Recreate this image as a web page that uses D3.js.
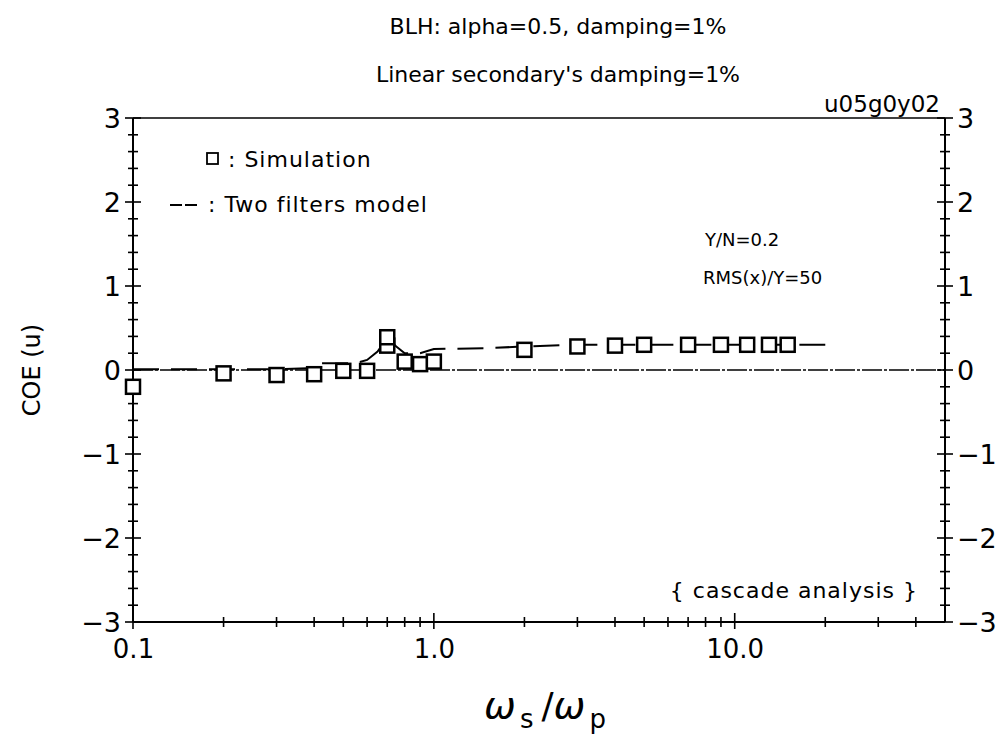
<!DOCTYPE html>
<html lang="en">
<head>
<meta charset="utf-8">
<title>COE vs frequency ratio</title>
<script src="https://d3js.org/d3.v7.min.js"></script>
<style>
  body { margin: 0; background: #fff; }
  svg text { font-family: "DejaVu Sans", "Liberation Sans", sans-serif; fill: #000; }
  .axis .domain { display: none; }
</style>
</head>
<body>
<div id="chart"></div>
<script>
// simulation points (squares)
var simX = [0.1, 0.2, 0.3, 0.4, 0.5, 0.6, 0.7, 0.7, 0.8, 0.9, 1.0, 2, 3, 4, 5, 7, 9, 11, 13, 15];
var simY = [-0.2, -0.04, -0.06, -0.05, -0.01, -0.01, 0.29, 0.39, 0.1, 0.07, 0.1, 0.24, 0.28, 0.29, 0.3, 0.3, 0.3, 0.3, 0.3, 0.3];

// two filters model (dashed)
var modelX = [0.1, 0.2, 0.3, 0.38, 0.42, 0.55, 0.6, 0.65, 0.7, 0.75, 0.8, 0.9, 1.0, 1.5, 2, 3, 5, 10, 20];
var modelY = [0.01, 0.01, 0.01, 0.02, 0.08, 0.08, 0.12, 0.22, 0.38, 0.28, 0.2, 0.2, 0.25, 0.26, 0.28, 0.3, 0.3, 0.3, 0.3];

var xMajor = [0.1, 1, 10];
var xMinor = [0.2, 0.3, 0.4, 0.5, 0.6, 0.7, 0.8, 0.9, 2, 3, 4, 5, 6, 7, 8, 9, 20, 30, 40];
var xLabels = ["0.1", "1.0", "10.0"];
var yMajor = [-3, -2, -1, 0, 1, 2, 3];

var W = 1005, H = 735;
var svg = d3.select("#chart").append("svg").attr("width", W).attr("height", H);

var x = d3.scaleLog().domain([0.1, 50]).range([133, 945]);
var y = d3.scaleLinear().domain([-3, 3]).range([622, 118]);

var fmt = function(d) { return d < 0 ? "\u2212" + Math.abs(d) : String(d); };

// titles
svg.append("text").attr("x", 558).attr("y", 34).attr("text-anchor", "middle")
  .style("font-size", "22px").text("BLH: alpha=0.5, damping=1%");
svg.append("text").attr("x", 558).attr("y", 82).attr("text-anchor", "middle")
  .style("font-size", "22px").text("Linear secondary's damping=1%");
svg.append("text").attr("x", 940).attr("y", 112).attr("text-anchor", "end")
  .style("font-size", "23px").text("u05g0y02");

// frame
svg.append("line").attr("x1", x(0.1)).attr("x2", x(50)).attr("y1", y(3)).attr("y2", y(3))
  .attr("stroke", "#000").attr("stroke-width", 1.3);
svg.append("line").attr("x1", x(0.1)).attr("x2", x(50)).attr("y1", y(-3)).attr("y2", y(-3))
  .attr("stroke", "#000").attr("stroke-width", 2);
svg.append("line").attr("x1", x(0.1)).attr("x2", x(0.1)).attr("y1", y(3)).attr("y2", y(-3))
  .attr("stroke", "#000").attr("stroke-width", 2);
svg.append("line").attr("x1", x(50)).attr("x2", x(50)).attr("y1", y(3)).attr("y2", y(-3))
  .attr("stroke", "#000").attr("stroke-width", 2);

// zero line
svg.append("line").attr("x1", x(0.1)).attr("x2", x(50)).attr("y1", y(0)).attr("y2", y(0))
  .attr("stroke", "#000").attr("stroke-width", 1.5).attr("stroke-dasharray", "20,2,3,2");

// y ticks, crossing both side axes
var yTicks = y.ticks(24);
[x(0.1), x(50)].forEach(function(ax) {
  svg.append("g").selectAll("line").data(yTicks).join("line")
    .attr("x1", function(d) { return ax - (yMajor.indexOf(d) >= 0 ? 8 : 5); })
    .attr("x2", function(d) { return ax + (yMajor.indexOf(d) >= 0 ? 8 : 5); })
    .attr("y1", function(d) { return y(d); }).attr("y2", function(d) { return y(d); })
    .attr("stroke", "#000").attr("stroke-width", 1.6);
});

// x ticks
svg.append("g").selectAll("line").data(xMinor.concat(xMajor)).join("line")
  .attr("x1", function(d) { return x(d); }).attr("x2", function(d) { return x(d); })
  .attr("y1", function(d) { return y(-3) - (xMajor.indexOf(d) >= 0 ? 9 : 5); })
  .attr("y2", function(d) { return y(-3) + (xMajor.indexOf(d) >= 0 ? 7 : 5); })
  .attr("stroke", "#000").attr("stroke-width", 1.6);

// axis labels through d3 axes
svg.append("g").attr("class", "axis").attr("transform", "translate(" + x(0.1) + ",0)")
  .call(d3.axisLeft(y).tickValues(yMajor).tickSize(0).tickPadding(12).tickFormat(fmt))
  .selectAll("text").style("font-size", "27px").attr("dy", "0.36em");
svg.append("g").attr("class", "axis").attr("transform", "translate(" + x(50) + ",0)")
  .call(d3.axisRight(y).tickValues(yMajor).tickSize(0).tickPadding(12).tickFormat(fmt))
  .selectAll("text").style("font-size", "27px").attr("dy", "0.36em");
svg.append("g").attr("class", "axis").attr("transform", "translate(0," + y(-3) + ")")
  .call(d3.axisBottom(x).tickValues(xMajor).tickSize(0).tickPadding(18)
    .tickFormat(function(d, i) { return xLabels[i]; }))
  .selectAll("text").style("font-size", "26px");

// y label
svg.append("text").attr("transform", "translate(40," + y(0) + ") rotate(-90)")
  .attr("text-anchor", "middle").style("font-size", "24px").style("fill", "#000").text("COE (u)");

// x label
var xl = svg.append("text").attr("x", 545).attr("y", 718).attr("text-anchor", "middle");
xl.append("tspan").style("font-size", "38px").style("font-style", "italic").text("\u03c9");
xl.append("tspan").style("font-size", "26px").attr("dy", 10).attr("dx", 4).text("s");
xl.append("tspan").style("font-size", "36px").attr("dy", -10).attr("dx", 8).text("/");
xl.append("tspan").style("font-size", "38px").style("font-style", "italic").text("\u03c9");
xl.append("tspan").style("font-size", "26px").attr("dy", 10).attr("dx", 4).text("p");

// model line
var model = modelX.map(function(d, i) { return [d, modelY[i]]; });
svg.append("path").datum(model)
  .attr("d", d3.line().x(function(d) { return x(d[0]); }).y(function(d) { return y(d[1]); }))
  .attr("fill", "none").attr("stroke", "#000").attr("stroke-width", 2)
  .attr("stroke-dasharray", "26,12");

// simulation squares
var s = 14;
svg.append("g").selectAll("rect").data(simX).join("rect")
  .attr("x", function(d) { return x(d) - s / 2; })
  .attr("y", function(d, i) { return y(simY[i]) - s / 2; })
  .attr("width", s).attr("height", s)
  .attr("fill", "#fff").attr("stroke", "#000").attr("stroke-width", 2.5);

// legend
svg.append("rect").attr("x", 207).attr("y", 153).attr("width", 11).attr("height", 11)
  .attr("fill", "none").attr("stroke", "#000").attr("stroke-width", 1.8);
svg.append("text").attr("x", 228).attr("y", 167).style("font-size", "22px")
  .style("letter-spacing", "1px").text(": Simulation");
svg.append("line").attr("x1", 170).attr("x2", 198).attr("y1", 205).attr("y2", 205)
  .attr("stroke", "#000").attr("stroke-width", 1.8).attr("stroke-dasharray", "12,3");
svg.append("text").attr("x", 208).attr("y", 212).style("font-size", "22px")
  .style("letter-spacing", "1px").text(": Two filters model");

// annotations
svg.append("text").attr("x", 705).attr("y", 246).style("font-size", "18px").text("Y/N=0.2");
svg.append("text").attr("x", 703).attr("y", 284).style("font-size", "18px").text("RMS(x)/Y=50");
svg.append("text").attr("x", 918).attr("y", 598).attr("text-anchor", "end")
  .style("font-size", "22px").style("letter-spacing", "1px").text("{ cascade analysis }");
</script>
</body>
</html>
